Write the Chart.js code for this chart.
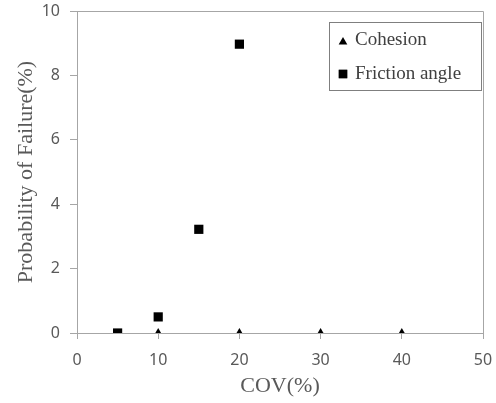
<!DOCTYPE html>
<html><head><meta charset="utf-8">
<script src="https://cdn.jsdelivr.net/npm/chart.js@4/dist/chart.umd.min.js"></script>
<style>html,body{margin:0;padding:0;background:#fff}#wrap{width:496px;height:403px}</style>
</head><body><div id="wrap"><canvas id="c" width="496" height="403"></canvas></div>
<script>
const seriesNames = ['Cohesion', 'Friction angle'];
const cohesionCOV = [10, 20, 30, 40];
const cohesionPF = [0, 0, 0, 0];
const frictionCOV = [5, 10, 15, 20];
const frictionPF = [0, 0.5, 3.22, 8.97];
const xTicks = [0, 10, 20, 30, 40, 50];
const yTicks = [0, 2, 4, 6, 8, 10];
const xTitle = 'COV(%)';
const yTitle = 'Probability of Failure(%)';

Chart.defaults.font.family = "'Noto Sans', sans-serif";
Chart.defaults.font.size = 16;
Chart.defaults.color = '#595959';

const toPts = (xs, ys) => xs.map((x, i) => ({x, y: ys[i]}));

const frame = {
  id: 'frame',
  afterDraw(chart) {
    const {ctx, chartArea: a} = chart;
    ctx.save();
    ctx.strokeStyle = '#a6a6a6';
    ctx.lineWidth = 1;
    ctx.beginPath();
    ctx.moveTo(Math.round(a.left) + 0.5, Math.round(a.top) + 0.5);
    ctx.lineTo(Math.round(a.right) + 0.5, Math.round(a.top) + 0.5);
    ctx.lineTo(Math.round(a.right) + 0.5, Math.round(a.bottom) + 0.5);
    ctx.stroke();
    // legend box
    const bx = 329.5, by = 22.5, bw = 152, bh = 68;
    ctx.fillStyle = '#fff';
    ctx.fillRect(bx, by, bw, bh);
    ctx.strokeStyle = '#7f7f7f';
    ctx.strokeRect(bx, by, bw, bh);
    ctx.font = "19px 'Liberation Serif', 'Times New Roman', serif";
    ctx.textBaseline = 'middle';
    ctx.textAlign = 'left';
    chart.data.datasets.forEach((ds, i) => {
      const cy = 40 + i * 34;
      Chart.helpers.drawPoint(ctx, {pointStyle: ds.pointStyle, radius: i === 0 ? 5 : 6, borderWidth: 0}, 343, cy + (i === 0 ? 2 : 0));
      ctx.fillStyle = '#000';
      ctx.fill();
      ctx.fillStyle = '#404040';
      ctx.fillText(ds.label, 355, cy);
    });
    ctx.restore();
  }
};

new Chart(document.getElementById('c'), {
  type: 'scatter',
  data: {
    datasets: [
      {label: seriesNames[0], data: toPts(cohesionCOV, cohesionPF), pointStyle: 'triangle', pointRadius: 5, backgroundColor: '#000', borderColor: '#000', borderWidth: 0},
      {label: seriesNames[1], data: toPts(frictionCOV, frictionPF), pointStyle: 'rect', pointRadius: 6.5, backgroundColor: '#000', borderColor: '#000', borderWidth: 0}
    ]
  },
  options: {
    responsive: false,
    animation: false,
    devicePixelRatio: 1,
    layout: {padding: {top: 11, right: 13, left: 0, bottom: 0}},
    plugins: {legend: {display: false}, tooltip: {enabled: false}},
    scales: {
      x: {
        type: 'linear', min: 0, max: 50,
        afterBuildTicks: s => { s.ticks = xTicks.map(v => ({value: v})); },
        afterFit: s => { s.height = 70; s.paddingLeft = 0; s.paddingRight = 0; },
        grid: {drawOnChartArea: false, drawTicks: true, tickLength: 6, color: '#a6a6a6'},
        border: {display: true, color: '#a6a6a6'},
        ticks: {color: '#595959', padding: 12, font: {family: "'Noto Sans', sans-serif", size: 16}, maxRotation: 0},
        title: {display: true, text: xTitle, color: '#595959', font: {family: "'Liberation Serif', serif", size: 22}, padding: {top: 0, bottom: 4}}
      },
      y: {
        type: 'linear', min: 0, max: 10,
        afterBuildTicks: s => { s.ticks = yTicks.map(v => ({value: v})); },
        afterFit: s => { s.width = 77; s.paddingTop = 0; s.paddingBottom = 0; },
        grid: {drawOnChartArea: false, drawTicks: true, tickLength: 7, color: '#a6a6a6'},
        border: {display: true, color: '#a6a6a6'},
        ticks: {color: '#595959', padding: 10, font: {family: "'Noto Sans', sans-serif", size: 16}},
        title: {display: true, text: yTitle, color: '#595959', font: {family: "'Liberation Serif', serif", size: 22}, padding: {top: 13, bottom: 0}}
      }
    }
  },
  plugins: [frame]
});
</script></body></html>
